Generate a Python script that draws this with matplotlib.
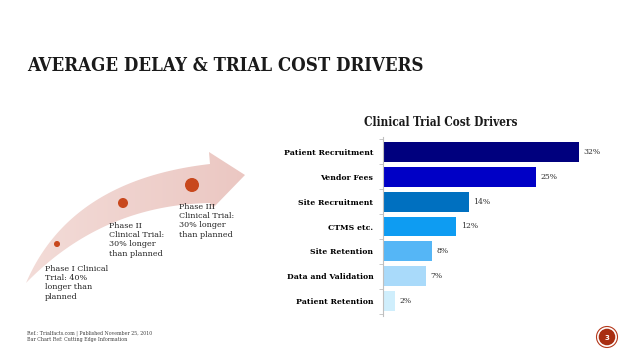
import numpy as np
import matplotlib
matplotlib.use("Agg")
from matplotlib import pyplot as plt
from matplotlib.patches import Polygon, Circle
from matplotlib.colors import LinearSegmentedColormap

# bar chart data
drivers = ['Patient Recruitment', 'Vendor Fees', 'Site Recruitment', 'CTMS etc.',
           'Site Retention', 'Data and Validation', 'Patient Retention']
shares = [32, 25, 14, 12, 8, 7, 2]
bar_colors = ['#00007E', '#0000C6', '#0070C0', '#0E9CF2', '#55B6F6', '#A9DAFA', '#CFEEFC']

# phase annotations along the arrow
phase_text = ['Phase I Clinical\nTrial: 40%\nlonger than\nplanned',
              'Phase II\nClinical Trial:\n30% longer\nthan planned',
              'Phase III\nClinical Trial:\n30% longer\nthan planned']

W, H = 638, 359
fig = plt.figure(figsize=(W / 100, H / 100), dpi=100)

# overlay in pixel coordinates for the decorations
deco = fig.add_axes([0, 0, 1, 1])
deco.set_xlim(0, W)
deco.set_ylim(H, 0)
deco.axis('off')

# main title
fig.text(27 / W, 1 - 66 / H, 'AVERAGE DELAY & TRIAL COST DRIVERS', fontsize=13.3,
         fontweight='bold', family='DejaVu Serif', fontstretch='condensed',
         va='center', ha='left', color='#1a1a1a')

# curved arrow built from two quadratic curves + head
def qbez(p0, p1, p2, n=60):
    t = np.linspace(0, 1, n)[:, None]
    return (1 - t) ** 2 * np.array(p0) + 2 * (1 - t) * t * np.array(p1) + t ** 2 * np.array(p2)

upper = qbez((26, 283), (70, 180), (210, 164))
lower = qbez((210, 203), (102, 205), (26, 283))
head = np.array([(210, 164), (209, 152), (245, 175), (213, 208), (210, 203)])
outline = np.vstack([upper, head[1:-1], lower])
arrow = Polygon(outline, closed=True, facecolor='none', edgecolor='none')
deco.add_patch(arrow)
grad = LinearSegmentedColormap.from_list('pinkfade', ['#F3DCD8', '#EBC7C2'])
img = deco.imshow(np.linspace(0, 1, 256)[None, :], cmap=grad, aspect='auto',
                  extent=(22, 248, 290, 145), zorder=1)
img.set_clip_path(arrow)
deco.set_xlim(0, W)
deco.set_ylim(H, 0)

for (cx, cy), r in zip([(57, 244), (123, 203), (192, 185)], [2.3, 4.3, 6.3]):
    deco.add_patch(Circle((cx, cy), r, color='#C8481D', zorder=3))

for (tx, ty), txt in zip([(45, 265), (109, 222), (179, 203)], phase_text):
    deco.text(tx, ty, txt, fontsize=5.8, family='DejaVu Serif', va='top', ha='left',
              color='#262626', linespacing=1.2, zorder=4)

# footer
deco.text(27, 333, 'Ref.: Trialfacts.com | Published November 25, 2010', fontsize=3.4,
          family='DejaVu Serif', va='center', color='#404040')
deco.text(27, 339.5, 'Bar Chart Ref: Cutting Edge Information', fontsize=3.4,
          family='DejaVu Serif', va='center', color='#404040')

# page number badge
deco.add_patch(Circle((607, 337), 10.5, facecolor='none', edgecolor='#B5391C', lw=0.8, zorder=3))
deco.add_patch(Circle((607, 337), 8.3, facecolor='#A82E12', edgecolor='none', zorder=3))
deco.text(607, 337.5, '3', fontsize=5, fontweight='bold', color='white',
          ha='center', va='center', zorder=4)

# bar chart
ax = fig.add_axes([383 / W, 43 / H, 216 / W, 179 / H])
y = np.arange(len(drivers))
ax.barh(y, shares, height=0.8, color=bar_colors, zorder=2)
ax.set_xlim(0, 35.3)
ax.set_ylim(6.6, -0.6)
ax.set_yticks(y)
ax.set_yticklabels(drivers, fontsize=5.6, fontweight='bold', family='DejaVu Serif')
ax.set_yticks(np.arange(-0.5, 7, 1), minor=True)
ax.tick_params(axis='y', which='major', length=0, pad=7)
ax.tick_params(axis='y', which='minor', length=3, color='#BFBFBF', width=0.6)
ax.set_xticks([])
for s in ['top', 'right', 'bottom']:
    ax.spines[s].set_visible(False)
ax.spines['left'].set_color('#BFBFBF')
ax.spines['left'].set_linewidth(0.8)
ax.patch.set_alpha(0)
for i, v in enumerate(shares):
    ax.text(v + 0.7, i, f'{v}%', fontsize=5.6, family='DejaVu Serif', va='center',
            ha='left', color='#333333')

fig.text(441 / W, 1 - 123 / H, 'Clinical Trial Cost Drivers', fontsize=8.5,
         fontweight='bold', family='DejaVu Serif', fontstretch='condensed',
         ha='center', va='center', color='#1a1a1a')

fig.savefig('out.png', dpi=100)
